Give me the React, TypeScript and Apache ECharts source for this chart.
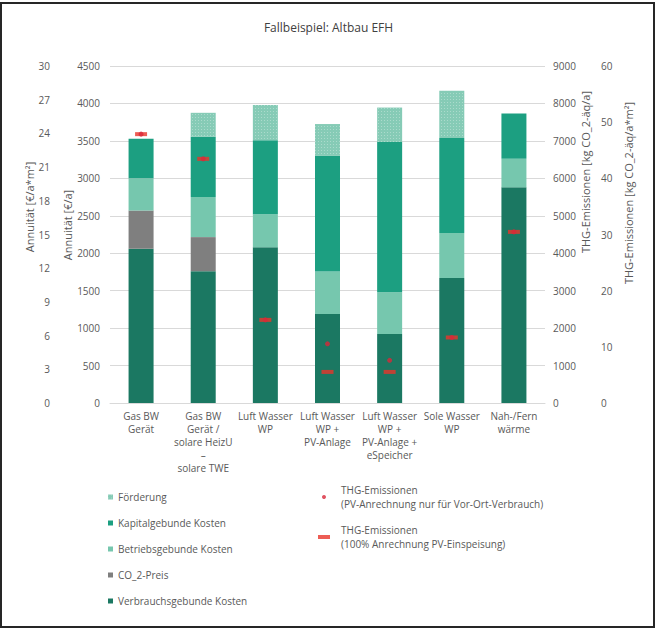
import React, { useEffect, useRef } from "react";
import * as echarts from "echarts";

const categories = [
  "Gas BW\nGerät",
  "Gas BW\nGerät /\nsolare HeizU\n–\nsolare TWE",
  "Luft Wasser\nWP",
  "Luft Wasser\nWP +\nPV-Anlage",
  "Luft Wasser\nWP +\nPV-Anlage +\neSpeicher",
  "Sole Wasser\nWP",
  "Nah-/Fern\nwärme",
];

const verbrauch = [2060, 1760, 2080, 1190, 920, 1670, 2880];
const co2Preis = [510, 455, 0, 0, 0, 0, 0];
const betrieb = [430, 535, 440, 565, 560, 600, 380];
const kapital = [530, 805, 990, 1545, 2005, 1270, 605];
const foerderung = [0, 320, 470, 425, 460, 630, 0];
const thgVorOrt = [7180, 6520, 2220, 1580, 1140, 1750, 4570];
const thgVoll = [7180, 6520, 2220, 830, 830, 1750, 4570];

const annuitaetRange = { min: 0, max: 4500, interval: 500 };
const annuitaetM2Range = { min: 0, max: 30, interval: 3 };
const thgRange = { min: 0, max: 9000, interval: 1000 };
const thgM2Range = { min: 0, max: 60, interval: 10 };

const NAME_F = "Förderung";
const NAME_K = "Kapitalgebunde Kosten";
const NAME_B = "Betriebsgebunde Kosten";
const NAME_C = "CO_2-Preis";
const NAME_V = "Verbrauchsgebunde Kosten";
const NAME_DOT = "THG-Emissionen\n(PV-Anrechnung nur für Vor-Ort-Verbrauch)";
const NAME_DASH = "THG-Emissionen\n(100% Anrechnung PV-Einspeisung)";

const FONT = "'Open Sans', 'Noto Sans', sans-serif";
const TXT = "#595959";

export default function App() {
  const ref = useRef<HTMLDivElement>(null);
  useEffect(() => {
    if (!ref.current) return;
    const chart = echarts.init(ref.current, undefined, { renderer: "svg" });
    const axisLabel = {
      color: TXT,
      fontSize: 10,
      fontFamily: FONT,
      formatter: (v: number) => String(v),
    };
    const barBase = { type: "bar", stack: "k", barWidth: 25, yAxisIndex: 0 };
    chart.setOption({
      animation: false,
      backgroundColor: "#ffffff",
      textStyle: { fontFamily: FONT },
      title: {
        text: "Fallbeispiel: Altbau EFH",
        left: "center",
        top: 16,
        textStyle: { fontSize: 12, fontWeight: "normal", color: "#404040", fontFamily: FONT },
      },
      grid: { left: 110, right: 112, top: 66, bottom: 226, containLabel: false },
      xAxis: {
        type: "category",
        data: categories,
        axisLine: { lineStyle: { color: "#d9d9d9" } },
        axisTick: { show: false },
        axisLabel: { color: TXT, fontSize: 10, fontFamily: FONT, margin: 6, lineHeight: 13, interval: 0 },
      },
      yAxis: [
        {
          type: "value",
          position: "left",
          ...annuitaetRange,
          axisLabel: { ...axisLabel, margin: 10 },
          axisLine: { show: false },
          axisTick: { show: false },
          splitLine: { lineStyle: { color: "#d9d9d9" } },
        },
        {
          type: "value",
          position: "left",
          offset: 52,
          ...annuitaetM2Range,
          axisLabel: { ...axisLabel, margin: 8 },
          axisLine: { show: false },
          axisTick: { show: false },
          splitLine: { show: false },
        },
        {
          type: "value",
          position: "right",
          ...thgRange,
          axisLabel: { ...axisLabel, margin: 8 },
          axisLine: { show: false },
          axisTick: { show: false },
          splitLine: { show: false },
        },
        {
          type: "value",
          position: "right",
          offset: 48,
          ...thgM2Range,
          axisLabel: { ...axisLabel, margin: 8 },
          axisLine: { show: false },
          axisTick: { show: false },
          splitLine: { show: false },
        },
      ],
      legend: [
        {
          orient: "vertical",
          left: 108,
          top: 490,
          padding: 0,
          itemWidth: 5,
          itemHeight: 5,
          itemGap: 12,
          icon: "rect",
          selectedMode: false,
          textStyle: { color: TXT, fontSize: 10, lineHeight: 14, fontFamily: FONT },
          data: [NAME_F, NAME_K, NAME_B, NAME_C, NAME_V],
        },
        {
          orient: "vertical",
          left: 318,
          top: 477,
          padding: 0,
          itemWidth: 12,
          itemHeight: 4,
          itemGap: 0,
          selectedMode: false,
          textStyle: { color: TXT, fontSize: 10, lineHeight: 14, padding: [12, 0, 0, 6], fontFamily: FONT },
          data: [
            { name: NAME_DOT, icon: "circle" },
            { name: NAME_DASH, icon: "rect" },
          ],
        },
      ],
      series: [
        { ...barBase, name: NAME_V, data: verbrauch, itemStyle: { color: "#1b7862" } },
        { ...barBase, name: NAME_C, data: co2Preis, itemStyle: { color: "#7f7f7f" } },
        { ...barBase, name: NAME_B, data: betrieb, itemStyle: { color: "#76c7ae" } },
        { ...barBase, name: NAME_K, data: kapital, itemStyle: { color: "#1c9f81" } },
        {
          ...barBase,
          name: NAME_F,
          data: foerderung,
          itemStyle: {
            color: "#86cbb6",
            decal: {
              symbol: "rect",
              symbolSize: 1,
              dashArrayX: [1, 2],
              dashArrayY: [1, 2],
              color: "rgba(255,255,255,0.3)",
              rotation: 0,
            },
          },
        },
        {
          type: "scatter",
          name: NAME_DASH,
          yAxisIndex: 2,
          data: thgVoll,
          symbol: "rect",
          symbolSize: [12, 4],
          itemStyle: { color: "#e8352b" },
          z: 3,
        },
        {
          type: "scatter",
          name: NAME_DOT,
          yAxisIndex: 2,
          data: thgVorOrt,
          symbol: "circle",
          symbolSize: 5,
          itemStyle: { color: "#d8283a" },
          z: 4,
        },
      ],
      graphic: [
        {
          type: "rect",
          shape: { x: 1, y: 3, width: 653, height: 624 },
          style: { fill: "none", stroke: "#262626", lineWidth: 2 },
          silent: true,
        },
        {
          type: "text",
          x: 29,
          y: 207,
          rotation: Math.PI / 2,
          style: { text: "Annuität [€/a*m²]", fill: TXT, fontSize: 11, fontFamily: FONT, align: "center", verticalAlign: "middle" },
        },
        {
          type: "text",
          x: 67,
          y: 225,
          rotation: Math.PI / 2,
          style: { text: "Annuität [€/a]", fill: TXT, fontSize: 11, fontFamily: FONT, align: "center", verticalAlign: "middle" },
        },
        {
          type: "text",
          x: 585,
          y: 172,
          rotation: Math.PI / 2,
          style: { text: "THG-Emissionen [kg CO_2-äq/a]", fill: TXT, fontSize: 11, fontFamily: FONT, align: "center", verticalAlign: "middle" },
        },
        {
          type: "text",
          x: 628,
          y: 193,
          rotation: Math.PI / 2,
          style: { text: "THG-Emissionen [kg CO_2-äq/a*m²]", fill: TXT, fontSize: 11, fontFamily: FONT, align: "center", verticalAlign: "middle" },
        },
      ],
    });
    return () => chart.dispose();
  }, []);
  return (
    <div
      ref={ref}
      style={{ position: "fixed", left: 0, top: 0, width: 657, height: 629, background: "#fff" }}
    />
  );
}
